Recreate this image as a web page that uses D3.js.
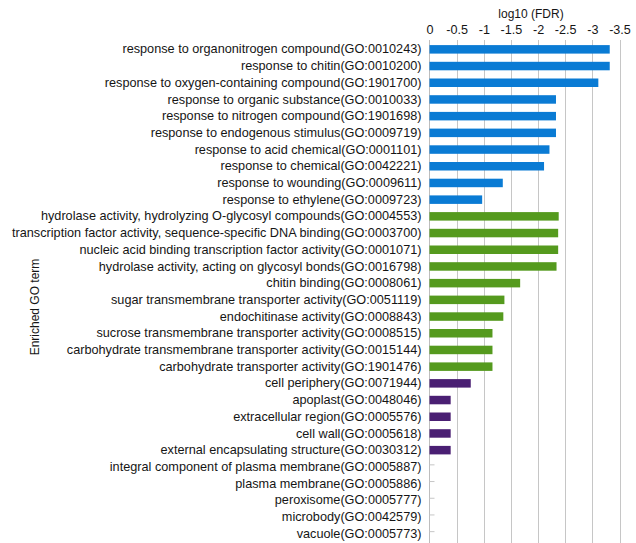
<!DOCTYPE html>
<html>
<head>
<meta charset="utf-8">
<script src="https://cdn.jsdelivr.net/npm/d3@7"></script>
<style>
  html, body { margin: 0; padding: 0; background: #fff; }
  svg { display: block; font-family: "Liberation Sans", Arial, sans-serif; }
</style>
</head>
<body>
<svg id="chart" width="636" height="543"></svg>
<script>
// GO term enrichment, top to bottom
const terms = [
  "response to organonitrogen compound(GO:0010243)",
  "response to chitin(GO:0010200)",
  "response to oxygen-containing compound(GO:1901700)",
  "response to organic substance(GO:0010033)",
  "response to nitrogen compound(GO:1901698)",
  "response to endogenous stimulus(GO:0009719)",
  "response to acid chemical(GO:0001101)",
  "response to chemical(GO:0042221)",
  "response to wounding(GO:0009611)",
  "response to ethylene(GO:0009723)",
  "hydrolase activity, hydrolyzing O-glycosyl compounds(GO:0004553)",
  "transcription factor activity, sequence-specific DNA binding(GO:0003700)",
  "nucleic acid binding transcription factor activity(GO:0001071)",
  "hydrolase activity, acting on glycosyl bonds(GO:0016798)",
  "chitin binding(GO:0008061)",
  "sugar transmembrane transporter activity(GO:0051119)",
  "endochitinase activity(GO:0008843)",
  "sucrose transmembrane transporter activity(GO:0008515)",
  "carbohydrate transmembrane transporter activity(GO:0015144)",
  "carbohydrate transporter activity(GO:1901476)",
  "cell periphery(GO:0071944)",
  "apoplast(GO:0048046)",
  "extracellular region(GO:0005576)",
  "cell wall(GO:0005618)",
  "external encapsulating structure(GO:0030312)",
  "integral component of plasma membrane(GO:0005887)",
  "plasma membrane(GO:0005886)",
  "peroxisome(GO:0005777)",
  "microbody(GO:0042579)",
  "vacuole(GO:0005773)"
];

// log10(FDR) for each term
const logFDR = [
  -3.32, -3.32, -3.11, -2.33, -2.33, -2.33, -2.21, -2.11, -1.35, -0.97,
  -2.38, -2.37, -2.37, -2.34, -1.67, -1.38, -1.36, -1.16, -1.16, -1.16,
  -0.76, -0.39, -0.39, -0.39, -0.39,
  0, 0, 0, 0, 0
];

// GO category of each term: BP, MF, CC
const category = [
  "BP","BP","BP","BP","BP","BP","BP","BP","BP","BP",
  "MF","MF","MF","MF","MF","MF","MF","MF","MF","MF",
  "CC","CC","CC","CC","CC","CC","CC","CC","CC","CC"
];

const xTicks = [0, -0.5, -1, -1.5, -2, -2.5, -3, -3.5];
const xTickLabels = ["0", "-0.5", "-1", "-1.5", "-2", "-2.5", "-3", "-3.5"];

const colors = { BP: "#0a7bd4", MF: "#559a1e", CC: "#4a1f73" };

const svg = d3.select("#chart");
const plotLeft = 429.5, plotRight = 619.5, plotTop = 41, plotBottom = 542;
const textColor = "#151515";

const x = d3.scaleLinear().domain([0, -3.5]).range([plotLeft, plotRight]);
const y = d3.scaleBand().domain(terms).range([plotTop, plotBottom]).paddingInner(0).paddingOuter(0);

// vertical gridlines
svg.append("g")
  .selectAll("line")
  .data(xTicks.slice(1))
  .join("line")
  .attr("x1", d => Math.round(x(d)) + 0.5)
  .attr("x2", d => Math.round(x(d)) + 0.5)
  .attr("y1", plotTop - 1)
  .attr("y2", 543)
  .attr("stroke", "#c6c6c6")
  .attr("stroke-width", 1);

// top axis tick labels
const xAxis = d3.axisTop(x)
  .tickValues(xTicks)
  .tickFormat((d, i) => xTickLabels[i])
  .tickSize(0)
  .tickPadding(0);
const gx = svg.append("g")
  .attr("transform", `translate(0, 34)`)
  .call(xAxis);
gx.select(".domain").remove();
gx.selectAll("text")
  .attr("font-size", 12.6)
  .attr("fill", textColor)
  .attr("font-family", "'Liberation Sans', Arial, sans-serif");

svg.append("text")
  .attr("x", 531)
  .attr("y", 18)
  .attr("text-anchor", "middle")
  .attr("font-size", 12)
  .attr("fill", textColor)
  .text("log10 (FDR)");

// category axis line and inner ticks
svg.append("line")
  .attr("x1", plotLeft).attr("x2", plotLeft)
  .attr("y1", plotTop - 1).attr("y2", 543)
  .attr("stroke", "#bdbdbd");

svg.append("g")
  .selectAll("line")
  .data(terms)
  .join("line")
  .attr("x1", plotLeft)
  .attr("x2", plotLeft + 5)
  .attr("y1", d => y(d) + y.bandwidth() / 2 - 2)
  .attr("y2", d => y(d) + y.bandwidth() / 2 - 2)
  .attr("stroke", "#c6c6c6");

// bars
const barH = 8.5;
svg.append("g")
  .selectAll("rect")
  .data(terms)
  .join("rect")
  .attr("x", plotLeft)
  .attr("y", d => y(d) + y.bandwidth() / 2 - barH / 2)
  .attr("width", (d, i) => x(logFDR[i]) - plotLeft)
  .attr("height", barH)
  .attr("fill", (d, i) => colors[category[i]]);

// term labels
const yAxis = d3.axisLeft(y).tickSize(0).tickPadding(8);
const gy = svg.append("g")
  .attr("transform", `translate(${plotLeft}, 0)`)
  .call(yAxis);
gy.select(".domain").remove();
gy.selectAll("text")
  .attr("font-size", 12.7)
  .attr("fill", textColor)
  .attr("font-family", "'Liberation Sans', Arial, sans-serif");

// category axis title
svg.append("text")
  .attr("transform", "translate(39, 307) rotate(-90)")
  .attr("text-anchor", "middle")
  .attr("font-size", 12)
  .attr("fill", textColor)
  .text("Enriched GO term");
</script>
</body>
</html>
